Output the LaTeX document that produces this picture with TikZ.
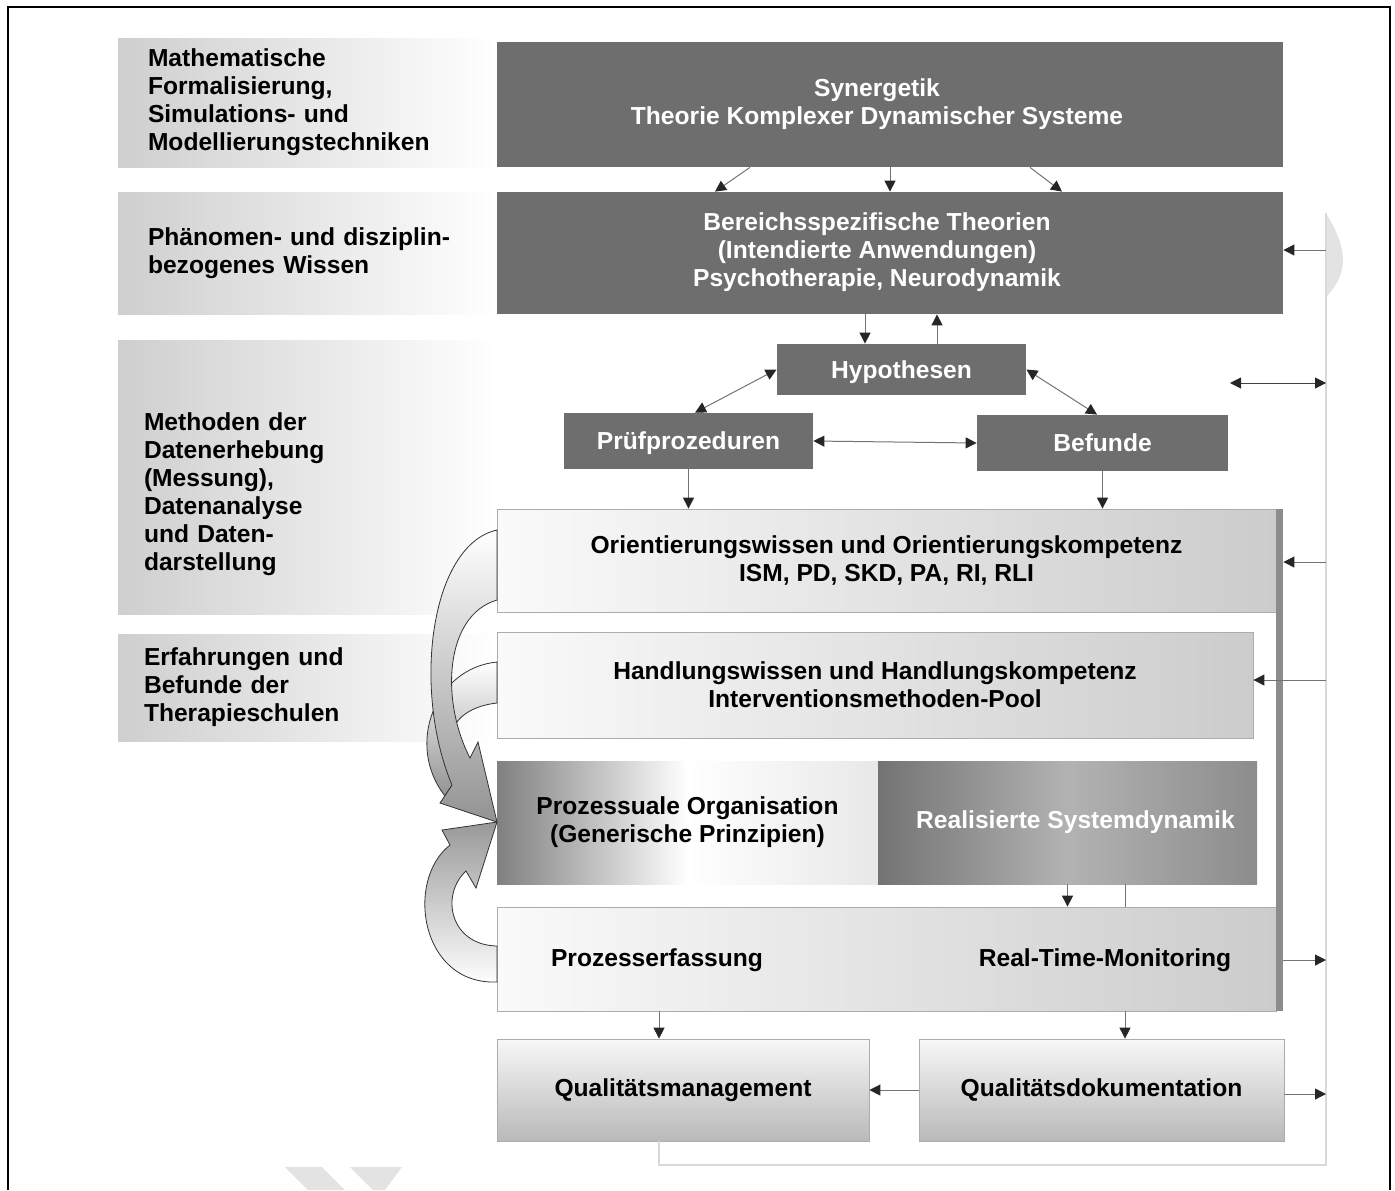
\documentclass[tikz,border=0pt]{standalone}
\usepackage{fontspec}
\setmainfont{Liberation Sans}
\usetikzlibrary{arrows.meta,calc,positioning}

\begin{document}
\begin{tikzpicture}[x=0.5pt,y=-0.5pt,
 font=\fontsize{12.3}{14}\selectfont\bfseries,
 lab/.style={left color=gray!38,right color=white,inner xsep=15pt,inner ysep=0pt,text width=158.5pt,align=left},
 dk/.style={fill=black!57,text=white,inner sep=0pt,align=center},
 lt/.style={left color=gray!4,right color=gray!40,draw=gray!65,inner sep=0pt,align=center},
 qb/.style={top color=gray!6,bottom color=gray!55,draw=gray!65,inner sep=0pt,align=center},
 ar/.style={draw=black!55,line width=0.5pt,-{Triangle[length=5.5pt,width=5.5pt,color=black!85]}},
 dar/.style={ar,{Triangle[length=5.5pt,width=5.5pt,color=black!85]}-{Triangle[length=5.5pt,width=5.5pt,color=black!85]}},
 fb/.style={draw=gray!30,line width=0.6pt},
 band/.style={draw=black!80,line width=0.4pt}]
\useasboundingbox (0,0) rectangle (1395,1190);
\draw[line width=1.2pt] (8,1190) -- (8,7) -- (1390,7) -- (1390,1190);
% left column
\node[lab,minimum height=64.5pt] (mat) at (306.5,102.5)
 {Mathematische\\Formalisierung,\\Simulations- und\\Modellierungstechniken};
\node[lab,minimum height=61pt] (phae) at (306.5,253) {Phänomen- und disziplin-\\bezogenes Wissen};
\node[lab,minimum height=137pt,inner xsep=13pt,text width=162.5pt] (meth) at (306.5,477)
 {\rule{0pt}{26pt}Methoden der\\Datenerhebung\\(Messung),\\Datenanalyse\\und Daten-\\darstellung};
\node[lab,minimum height=53.5pt,inner xsep=13pt,text width=162.5pt] (erfa) at (306.5,687.5)
 {Erfahrungen und\\Befunde der\\Therapieschulen};
% theory blocks
\node[dk,minimum width=393pt,minimum height=62.5pt] (syn) at (890,104.5)
 {\hspace*{-13pt}\begin{tabular}{@{}c@{}}Synergetik\\Theorie Komplexer Dynamischer Systeme\end{tabular}};
\node[dk,minimum width=393pt,minimum height=61pt] (ber) at (890,253)
 {\hspace*{-13pt}\begin{tabular}{@{}c@{}}Bereichsspezifische Theorien\\(Intendierte Anwendungen)\\Psychotherapie, Neurodynamik\end{tabular}};
\node[dk,minimum width=124.5pt,minimum height=25.5pt,text depth=0pt] (hyp) at (901.5,369.5) {Hypothesen};
\node[dk,minimum width=124.5pt,minimum height=28pt,text depth=0pt] (pruef) at (688.5,441) {Prüfprozeduren};
\node[dk,minimum width=125.5pt,minimum height=28pt] (bef) at (1102.5,443) {\raisebox{-1.5pt}{Befunde}};
% practice blocks
\node[lt,minimum width=389.5pt,minimum height=51.5pt] (ori) at (886.5,560.5)
 {Orientierungswissen und Orientierungskompetenz\\ISM, PD, SKD, PA, RI, RLI};
\node[lt,minimum width=378pt,minimum height=53pt] (hand) at (875,685)
 {Handlungswissen und Handlungskompetenz\\Interventionsmethoden-Pool};
\node[left color=black!50,right color=gray!18,middle color=white,minimum width=190.5pt,minimum height=61.5pt,inner sep=0pt,align=center] (proz) at (687.5,822.5)
 {Prozessuale Organisation\\(Generische Prinzipien)};
\node[left color=black!55,right color=black!45,middle color=black!30,text=white,minimum width=189.5pt,minimum height=61.5pt,inner sep=0pt] (real) at (1067.5,822.5)
 {\hspace*{8pt}Realisierte Systemdynamik};
\node[lt,minimum width=389.5pt,minimum height=52pt] (erf) at (886.5,959) {};
\node (erfl) at (657,960) {Prozesserfassung};
\node (erfr) at (1105,960) {Real-Time-Monitoring};
\node[fill=black!45,minimum width=3.5pt,minimum height=251pt,inner sep=0pt] (bar) at (1279.5,760) {};
\node[qb,minimum width=186pt,minimum height=51pt] (qm) at (683,1090) {Qualitätsmanagement};
\node[qb,minimum width=182.5pt,minimum height=51pt] (qd) at (1101.5,1090) {Qualitätsdokumentation};
% curved bands into the process block
\shade[band,top color=white,bottom color=gray!85] (497,662) .. controls (435,668) and (405,745) .. (445,796)
 -- (458,776) .. controls (438,740) and (452,708) .. (497,703) -- cycle;
\shade[band,top color=white,bottom color=gray!85] (497,530) .. controls (430,545) and (412,690) .. (452,785)
 -- (440,803) -- (497,822) -- (478,742) -- (470,758) .. controls (440,700) and (445,615) .. (497,600) -- cycle;
\shade[band,top color=gray!80,bottom color=white] (497,982) .. controls (420,985) and (405,880) .. (450,845)
 -- (442,830) -- (497,822) -- (476,888) -- (466,871) .. controls (440,895) and (450,945) .. (497,946) -- cycle;
% feedback line
\fill[gray!22] (1326,213) .. controls (1345,245) and (1352,270) .. (1326,297) -- cycle;
\fill[gray!22] (285,1167) -- (322,1167) -- (345,1190) -- (308,1190) -- cycle;
\fill[gray!22] (350,1167) -- (402,1167) -- (385,1190) -- (373,1190) -- cycle;
\coordinate (xq) at (659,0);
\coordinate (xd) at (1125,0);
\coordinate (fbtop) at (1326,213);
\coordinate (fbbot) at (1326,1165);
\draw[fb] (xq |- qm.south) |- (fbbot) -- (fbtop);
% connectors
\draw[ar] ($(syn.south)+(-140,0)$) -- ($(ber.north)+(-175,0)$);
\draw[ar] (syn.south) -- (ber.north);
\draw[ar] ($(syn.south)+(140,0)$) -- ($(ber.north)+(172,0)$);
\draw[ar] ($(ber.south)+(-25,0)$) -- ($(hyp.north)+(-36.5,0)$);
\draw[ar] ($(hyp.north)+(35.5,0)$) -- ($(ber.south)+(47,0)$);
\draw[dar] (hyp.west) -- ($(pruef.north)+(6.5,0)$);
\draw[dar] (hyp.east) -- ($(bef.north)+(-5.5,0)$);
\draw[dar] (pruef.east) -- (bef.west);
\draw[ar] (pruef.south) -- (pruef.south |- ori.north);
\draw[ar] (bef.south) -- (bef.south |- ori.north);
\draw[ar] (real.south) -- (real.south |- erf.north);
\draw[draw=black!55,line width=0.5pt] (xd |- real.south) -- (xd |- erf.north);
\draw[ar] (xq |- erf.south) -- (xq |- qm.north);
\draw[ar] (xd |- erf.south) -- (xd |- qd.north);
\draw[ar] (qd.west) -- (qm.east);
\coordinate (f1) at (1326,250);
\coordinate (f2) at (1326,562);
\coordinate (f3) at (1326,680);
\coordinate (f4) at (1326,960);
\coordinate (f5) at (1326,1094);
\coordinate (d1) at (1230,383);
\coordinate (d2) at (1326,383);
\draw[ar] (f1) -- (f1 -| ber.east);
\draw[ar] (f2) -- (f2 -| bar.east);
\draw[ar] (f3) -- (f3 -| hand.east);
\draw[ar] (f4 -| bar.east) -- (f4);
\draw[ar] (f5 -| qd.east) -- (f5);
\draw[dar,draw=black!75] (d1) -- (d2);
\end{tikzpicture}
\end{document}
